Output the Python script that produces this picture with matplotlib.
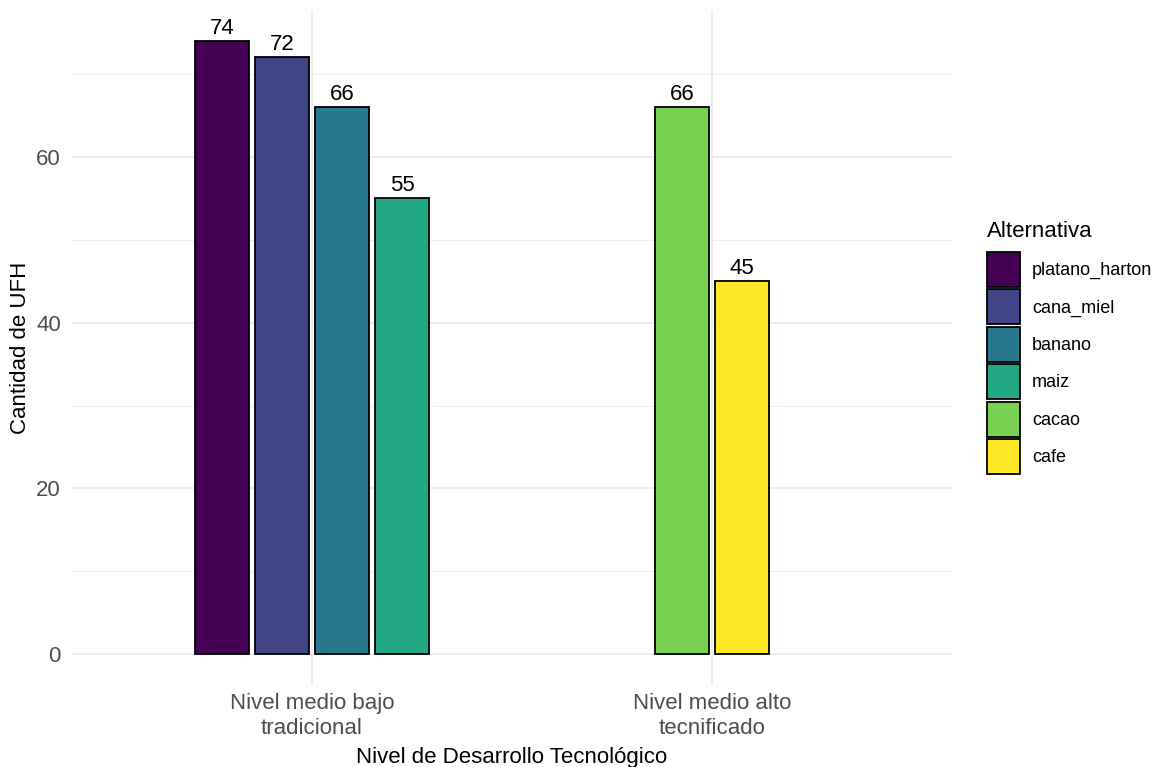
import matplotlib
matplotlib.use("Agg")
import matplotlib.pyplot as plt
from matplotlib.patches import Patch
import numpy as np

plt.rcParams['font.family'] = ['Liberation Sans', 'DejaVu Sans']

categories = ["Nivel medio bajo\ntradicional", "Nivel medio alto\ntecnificado"]
group1_names = ["platano_harton", "cana_miel", "banano", "maiz"]
group1_values = [74, 72, 66, 55]
group2_names = ["cacao", "cafe"]
group2_values = [66, 45]
alternatives = ["platano_harton", "cana_miel", "banano", "maiz", "cacao", "cafe"]
colors = {"platano_harton": "#440154", "cana_miel": "#414487", "banano": "#2A788E",
          "maiz": "#22A884", "cacao": "#7AD151", "cafe": "#FDE725"}

W, H = 1154, 767
fig = plt.figure(figsize=(W / 100, H / 100), dpi=100)
ax = fig.add_axes([72 / W, 1 - 685 / H, (952 - 72) / W, (685 - 10) / H])

slot = 0.15
bw = 0.135
for gi, (names, vals) in enumerate([(group1_names, group1_values), (group2_names, group2_values)]):
    n = len(names)
    center = gi + 1
    for j, (nm, v) in enumerate(zip(names, vals)):
        x = center + (j - (n - 1) / 2) * slot
        ax.bar(x, v, width=bw, color=colors[nm], edgecolor="black", linewidth=1.3, zorder=3)
        ax.annotate(str(v), (x, v), xytext=(0, 1.5), textcoords="offset points",
                    ha="center", va="bottom", fontsize=16, color="black", zorder=4)

ax.set_xlim(0.4, 2.6)
ax.set_ylim(-3.7, 77.7)
ax.set_xticks([1, 2])
ax.set_xticklabels(categories, fontsize=16, color="#4D4D4D", linespacing=1.2)
ax.set_yticks([0, 20, 40, 60])
ax.set_yticks([10, 30, 50, 70], minor=True)
ax.tick_params(axis="y", labelsize=16, labelcolor="#4D4D4D", length=0, pad=8)
ax.tick_params(axis="x", length=0, pad=6)
ax.tick_params(which="minor", length=0)
ax.grid(True, which="major", color="#EBEBEB", linewidth=1.2, zorder=0)
ax.grid(True, which="minor", axis="y", color="#EBEBEB", linewidth=0.6, zorder=0)
for s in ax.spines.values():
    s.set_visible(False)

fig.text(512 / W, 1 - 757 / H, "Nivel de Desarrollo Tecnológico", ha="center", va="center",
         fontsize=16, color="black")
fig.text(21 / W, 1 - 348 / H, "Cantidad de UFH", ha="center", va="center", rotation=90,
         fontsize=16, color="black")

fig.text(987 / W, 1 - 237 / H, "Alternativa", ha="left", va="baseline", fontsize=16, color="black")
handles = [Patch(facecolor=colors[a], edgecolor="black", linewidth=1.3) for a in alternatives]
leg = ax.legend(handles, alternatives, loc="upper left",
                bbox_to_anchor=(987 / W, 1 - 252 / H), bbox_transform=fig.transFigure,
                frameon=False, fontsize=13,
                handlelength=1.8, handleheight=2.6, labelspacing=0.14, handletextpad=0.7,
                borderpad=0, borderaxespad=0)

fig.savefig("out.png", dpi=100)
